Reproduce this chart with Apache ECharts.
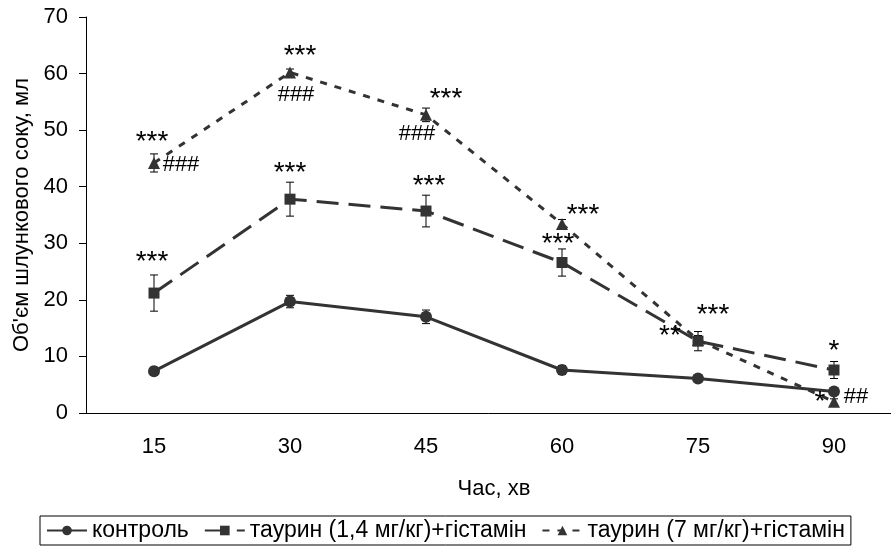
<!DOCTYPE html>
<html>
<head>
<meta charset="utf-8">
<script src="https://cdn.jsdelivr.net/npm/echarts@6/dist/echarts.min.js"></script>
<style>
html,body{margin:0;padding:0;background:#fff;}
#chart{width:891px;height:547px;}
</style>
</head>
<body>
<div id="chart"></div>
<script>
// ---- data ----
const categories = ['15', '30', '45', '60', '75', '90'];
const seriesNames = ['контроль', 'таурин (1,4 мг/кг)+гістамін', 'таурин (7 мг/кг)+гістамін'];
const controlMean = [7.4, 19.7, 17.0, 7.6, 6.1, 3.8];
const controlErr = [0.7, 1.1, 1.2, 0.8, 0.5, 0.5];
const taurine14Mean = [21.2, 37.8, 35.7, 26.6, 12.7, 7.6];
const taurine14Err = [3.2, 3.0, 2.8, 2.4, 1.7, 1.5];
const taurine7Mean = [44.2, 60.2, 52.7, 33.4, 12.9, 2.0];
const taurine7Err = [1.6, 0.6, 1.2, 0.8, 0.8, 0.5];
const yMin = 0, yMax = 70, yStep = 10;
const xTitle = 'Час, хв';
const yTitle = "Об'єм шлункового соку, мл";
// significance marks
const annot14Star = ['***', '***', '***', '***', '**', '*'];
const annot7Star = ['***', '***', '***', '***', '***', '*'];
const annot7Hash = ['###', '###', '###', '', '', '##'];

// ---- style (offsets in px relative to the point) ----
const off14Star = [[-2, -34], [0, -29], [3, -28], [-4, -21], [-28, -8], [0, -22]];
const off7Star = [[-2, -23], [10, -19], [20, -18], [21, -12], [15, -28], [-14, -2]];
const off7Hash = [[27, 2], [6, 22], [-9, 19], [0, 0], [0, 0], [22, -5]];

const FONT = '"Liberation Sans", Arial, sans-serif';
const LINE = '#333333';
const FS = 22;

function errSeries(mean, err) {
  return {
    type: 'custom',
    silent: true,
    z: 1,
    data: mean.map((m, i) => [i, m, err[i]]),
    renderItem: function (params, api) {
      const i = api.value(0), m = api.value(1), e = api.value(2);
      const top = api.coord([i, m + e]);
      const bot = api.coord([i, m - e]);
      const w = 4;
      return {
        type: 'group',
        children: [
          { type: 'line', shape: { x1: top[0], y1: top[1], x2: bot[0], y2: bot[1] }, style: { stroke: '#000', lineWidth: 1 } },
          { type: 'line', shape: { x1: top[0] - w, y1: top[1], x2: top[0] + w, y2: top[1] }, style: { stroke: '#000', lineWidth: 1 } },
          { type: 'line', shape: { x1: bot[0] - w, y1: bot[1], x2: bot[0] + w, y2: bot[1] }, style: { stroke: '#000', lineWidth: 1 } }
        ]
      };
    }
  };
}

function annotSeries(mean, texts, offsets) {
  return {
    type: 'custom',
    silent: true,
    z: 10,
    clip: false,
    data: mean.map((m, i) => [i, m]),
    renderItem: function (params, api) {
      const idx = params.dataIndex;
      const t = texts[idx];
      if (!t) return null;
      const p = api.coord([api.value(0), api.value(1)]);
      const o = offsets[idx];
      const isStar = t.charAt(0) === '*';
      const fs = isStar ? 28 : 22;
      const dy = isStar ? fs * 0.1 : 0;
      return {
        type: 'text',
        x: p[0] + o[0],
        y: p[1] + o[1] + dy,
        style: {
          text: t,
          font: fs + 'px ' + FONT,
          fill: '#000',
          align: 'center',
          verticalAlign: 'middle'
        }
      };
    }
  };
}

const chart = echarts.init(document.getElementById('chart'), null, { renderer: 'canvas' });
chart.setOption({
  animation: false,
  backgroundColor: '#fff',
  textStyle: { fontFamily: FONT },
  grid: { left: 86, top: 17, right: -11, bottom: 134, outerBoundsMode: 'none', containLabel: false },
  legend: {
    data: seriesNames,
    left: 40,
    top: 516,
    padding: [3, 6, 3, 6],
    itemGap: 15,
    itemWidth: 40,
    itemHeight: 12,
    borderColor: '#000',
    borderWidth: 1,
    borderRadius: 0,
    textStyle: { fontSize: 23, color: '#000', fontFamily: FONT }
  },
  xAxis: {
    type: 'category',
    data: categories,
    boundaryGap: true,
    name: xTitle,
    nameLocation: 'middle',
    nameGap: 65,
    nameTextStyle: { fontSize: FS, color: '#000', fontFamily: FONT },
    axisLine: { lineStyle: { color: '#000', width: 1 } },
    axisTick: { inside: false, length: 7, lineStyle: { color: '#000' } },
    axisLabel: { fontSize: FS, color: '#000', margin: 23, fontFamily: FONT },
    splitLine: { show: false }
  },
  yAxis: {
    type: 'value',
    min: yMin, max: yMax, interval: yStep,
    name: yTitle,
    nameLocation: 'middle',
    nameGap: 53,
    nameTextStyle: { fontSize: FS, color: '#000', fontFamily: FONT },
    axisLine: { show: true, lineStyle: { color: '#000', width: 1 } },
    axisTick: { show: true, inside: false, length: 7, lineStyle: { color: '#000' } },
    axisLabel: { fontSize: FS, color: '#000', margin: 18, fontFamily: FONT },
    splitLine: { show: false }
  },
  series: [
    errSeries(controlMean, controlErr),
    errSeries(taurine14Mean, taurine14Err),
    errSeries(taurine7Mean, taurine7Err),
    {
      name: seriesNames[2], type: 'line', data: taurine7Mean, z: 3,
      symbol: 'triangle', symbolSize: 12,
      itemStyle: { color: LINE },
      lineStyle: { color: LINE, width: 3, type: [7, 8] }
    },
    {
      name: seriesNames[1], type: 'line', data: taurine14Mean, z: 4,
      symbol: 'rect', symbolSize: 11,
      itemStyle: { color: LINE },
      lineStyle: { color: LINE, width: 3, type: [22, 10] }
    },
    {
      name: seriesNames[0], type: 'line', data: controlMean, z: 5,
      symbol: 'circle', symbolSize: 12,
      itemStyle: { color: LINE },
      lineStyle: { color: LINE, width: 3, type: 'solid' }
    },
    annotSeries(taurine14Mean, annot14Star, off14Star),
    annotSeries(taurine7Mean, annot7Star, off7Star),
    annotSeries(taurine7Mean, annot7Hash, off7Hash)
  ]
});
</script>
</body>
</html>
